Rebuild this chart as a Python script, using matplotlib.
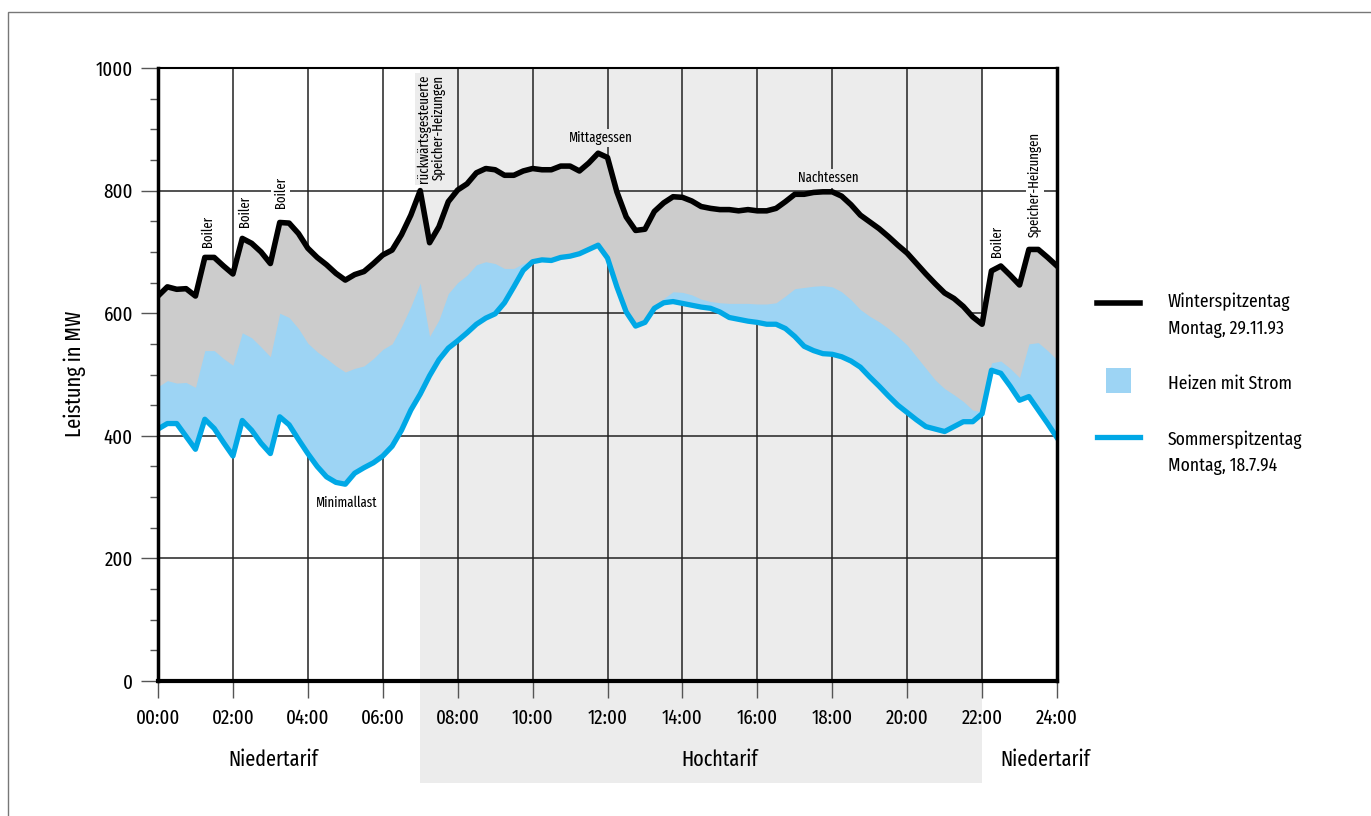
import os
import numpy as np
import matplotlib
matplotlib.use("Agg")
import matplotlib.pyplot as plt
from matplotlib import font_manager
from matplotlib.font_manager import FontProperties
from matplotlib.patches import Rectangle
from matplotlib.lines import Line2D

# Zeit in Stunden, Viertelstundenwerte
hours = np.arange(0, 24.01, 0.25)

# Winterspitzentag Montag 29.11.93 (MW)
winter = [628, 643, 639, 640, 628, 691, 691, 677,
          664, 722, 714, 700, 681, 748, 747, 730,
          706, 691, 679, 665, 654, 663, 668, 681,
          695, 703, 728, 760, 800, 715, 741, 782,
          801, 811, 829, 836, 834, 825, 825, 832,
          836, 834, 834, 840, 840, 832, 845, 861,
          854, 798, 757, 735, 737, 766, 780, 790,
          789, 783, 774, 771, 769, 769, 767, 769,
          767, 767, 771, 782, 794, 794, 797, 798,
          798, 791, 777, 760, 749, 738, 725, 711,
          698, 681, 664, 648, 633, 624, 611, 594,
          582, 669, 677, 662, 646, 704, 704, 691,
          677]

# Winterlast ohne Heizen mit Strom (Oberkante der hellblauen Flaeche)
no_heating = [480, 490, 486, 487, 479, 539, 539, 526,
              515, 568, 560, 545, 529, 600, 593, 575,
              551, 537, 526, 514, 504, 510, 514, 526,
              541, 550, 578, 611, 649, 562, 589, 632,
              650, 662, 679, 684, 681, 673, 673, 681,
              684, 687, 686, 691, 693, 697, 704, 711,
              690, 643, 602, 579, 585, 608, 624, 635,
              634, 630, 623, 619, 617, 616, 616, 616,
              615, 615, 617, 628, 640, 642, 644, 645,
              643, 635, 622, 606, 595, 586, 575, 562,
              548, 529, 510, 491, 477, 467, 456, 442,
              439, 519, 522, 510, 495, 550, 552, 539,
              524]

# Sommerspitzentag Montag 18.7.94 (MW)
summer = [411, 420, 420, 399, 378, 427, 412, 389,
          367, 425, 409, 388, 371, 431, 418, 394,
          371, 350, 333, 324, 321, 339, 348, 356,
          367, 383, 409, 442, 468, 498, 524, 543,
          555, 568, 582, 592, 599, 617, 643, 670,
          684, 687, 686, 691, 693, 697, 704, 711,
          690, 643, 602, 579, 585, 608, 617, 619,
          616, 613, 610, 608, 602, 593, 590, 587,
          585, 582, 582, 575, 562, 546, 539, 534,
          533, 529, 522, 512, 496, 481, 465, 450,
          438, 426, 415, 411, 407, 415, 423, 423,
          436, 507, 502, 481, 458, 464, 442, 420,
          397]

xtick_pos = list(range(0, 25, 2))
xtick_labels = ['%02d:00' % h for h in xtick_pos]
high_tariff = (7, 22)

# Beschriftungen: (Text, Stunde, MW, Drehung)
notes = [('Boiler', 1.33, 708, 90),
         ('Boiler', 2.31, 741, 90),
         ('Boiler', 3.27, 771, 90),
         ('rückwärtsgesteuerte\nSpeicher-Heizungen', 7.29, 812, 90),
         ('Mittagessen', 11.83, 886, 0),
         ('Nachtessen', 17.9, 820, 0),
         ('Minimallast', 5.05, 290, 0),
         ('Boiler', 22.4, 691, 90),
         ('Speicher-Heizungen', 23.41, 725, 90)]

legend_lines = ['Winterspitzentag', 'Montag, 29.11.93', 'Heizen mit Strom',
                'Sommerspitzentag', 'Montag, 18.7.94']

BLACK = '#000000'
BLUE = '#00a8e6'
LIGHTBLUE = '#9dd4f4'
GREY = '#cccccc'
SHADE = '#ececec'

# moeglichst schmale Schrift suchen
bad = ('bold', 'black', 'light', 'thin', 'medium', 'italic', 'oblique', 'heavy', 'book')
ranked = []
for f in font_manager.fontManager.ttflist:
    base = os.path.basename(f.fname).lower()
    if any(b in base for b in bad):
        continue
    if 'extracondensed' in base or 'extra-condensed' in base:
        r = 0
    elif 'semicondensed' in base:
        r = 3
    elif 'ultracondensed' in base:
        r = 2
    elif 'condensed' in base:
        r = 1
    elif 'narrow' in base:
        r = 1.5
    else:
        continue
    ranked.append((r, base, f.fname))
ranked.sort()
font_file = ranked[0][2] if ranked else None

def fp(size):
    if font_file:
        return FontProperties(fname=font_file, size=size)
    return FontProperties(family='DejaVu Sans', size=size)

W, H = 1371, 816
fig = plt.figure(figsize=(W / 100, H / 100), dpi=100)
renderer = fig.canvas.get_renderer()

def size_for(text, px):
    # Schriftgroesse so waehlen, dass der Text etwa px Pixel breit ist
    t = fig.text(0, 0, text, fontproperties=fp(10))
    w = t.get_window_extent(renderer).width
    t.remove()
    return 10 * px / w

tick_fs = size_for('00:00', 44)
note_fs = size_for('Mittagessen', 64)
tarif_fs = size_for('Niedertarif', 90)
leg_fs = size_for('Winterspitzentag', 123)
ylab_fs = size_for('Leistung in MW', 127)

ax = fig.add_axes([158 / W, 1 - 681 / H, (1057 - 158) / W, (681 - 68) / H])

def fx(px):
    return px / W

def fy(py):
    return 1 - py / H

# Rahmen um das Bild
fig.patches.append(Rectangle((fx(8), -0.5), 2, 0.5 + fy(12), transform=fig.transFigure,
                             fill=False, edgecolor='#777777', lw=1.0))

# Hochtarif-Zeitraum, reicht bis unter die Achse
ax.add_patch(Rectangle((high_tariff[0], -0.1664), high_tariff[1] - high_tariff[0], 1.1664,
                       transform=ax.get_xaxis_transform(), facecolor=SHADE,
                       edgecolor='none', clip_on=False, zorder=0.1))

ax.fill_between(hours, winter, summer, color=GREY, lw=0, zorder=1)
ax.fill_between(hours, summer, no_heating, where=np.array(no_heating) >= np.array(summer),
                interpolate=True, color=LIGHTBLUE, lw=0, zorder=1.1)
ax.plot(hours, winter, color=BLACK, lw=4.0, zorder=3, solid_joinstyle='round')
ax.plot(hours, summer, color=BLUE, lw=3.8, zorder=3, solid_joinstyle='round')

ax.set_xlim(0, 24)
ax.set_ylim(0, 1000)
ax.set_xticks(xtick_pos)
ax.set_xticklabels(xtick_labels)
ax.set_yticks(range(0, 1001, 200))
ax.set_yticks(range(0, 1001, 50), minor=True)
for lbl in ax.get_xticklabels() + ax.get_yticklabels():
    lbl.set_fontproperties(fp(tick_fs))
ax.set_axisbelow(True)
ax.grid(True, which='major', color='#222222', lw=1.1)
ax.tick_params(axis='both', which='major', color='#555555', width=1.0)
ax.tick_params(axis='y', which='major', length=12, pad=6)
ax.tick_params(axis='y', which='minor', length=6, color='#555555', width=1.0)
ax.tick_params(axis='x', which='major', length=12, pad=8)
fig.text(fx(75), fy(374), 'Leistung in MW', rotation=90, ha='center', va='center',
         fontproperties=fp(ylab_fs))

ax.spines['left'].set_linewidth(2.5)
ax.spines['bottom'].set_linewidth(3.0)
ax.spines['right'].set_linewidth(2.5)
ax.spines['top'].set_linewidth(1.5)
for s in ax.spines.values():
    s.set_zorder(4)

for txt, t, v, rot in notes:
    inside = high_tariff[0] <= t <= high_tariff[1]
    bg = SHADE if inside else 'white'
    if rot == 90:
        ax.text(t, v, txt, rotation=90, ha='center', va='bottom', fontproperties=fp(note_fs),
                multialignment='right', linespacing=1.0, zorder=5,
                bbox=dict(facecolor=bg, edgecolor='none', pad=1.5))
    else:
        ax.text(t, v, txt, ha='center', va='center', fontproperties=fp(note_fs), zorder=5,
                bbox=dict(facecolor=bg, edgecolor='none', pad=1.5))

# Tarifzonen unter der Achse
xt = ax.get_xaxis_transform()
ax.text(3.07, -0.129, 'Niedertarif', transform=xt, ha='center', va='center', fontproperties=fp(tarif_fs))
ax.text(15.0, -0.129, 'Hochtarif', transform=xt, ha='center', va='center', fontproperties=fp(tarif_fs))
ax.text(23.68, -0.129, 'Niedertarif', transform=xt, ha='center', va='center', fontproperties=fp(tarif_fs))

# Legende
fig.add_artist(Line2D([fx(1097), fx(1140)], [fy(303), fy(303)], color=BLACK, lw=4.0))
fig.patches.append(Rectangle((fx(1106), fy(393)), fx(25), 25 / H, transform=fig.transFigure,
                             facecolor=LIGHTBLUE, edgecolor='none'))
fig.add_artist(Line2D([fx(1097), fx(1140)], [fy(437), fy(437)], color=BLUE, lw=3.8))
for txt, py in zip(legend_lines, [307, 334, 389, 445, 471]):
    fig.text(fx(1168), fy(py), txt, va='baseline', fontproperties=fp(leg_fs))

fig.savefig('out.png', dpi=100)
